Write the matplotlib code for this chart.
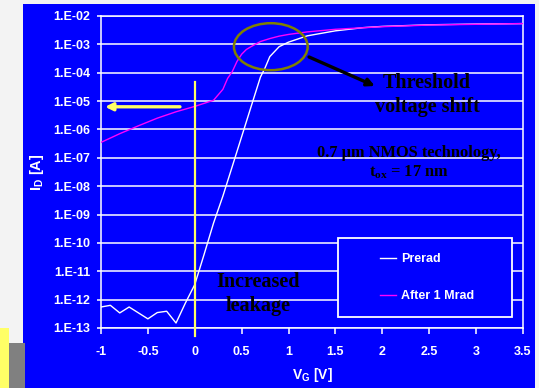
import numpy as np
import matplotlib
matplotlib.use("Agg")
import matplotlib.pyplot as plt
from matplotlib.patches import Rectangle, Ellipse
from matplotlib.ticker import NullLocator

plt.rcParams["mathtext.fontset"] = "custom"
plt.rcParams["mathtext.rm"] = "Liberation Serif:bold"
plt.rcParams["mathtext.it"] = "Liberation Serif:bold"
plt.rcParams["mathtext.bf"] = "Liberation Serif:bold"
plt.rcParams["mathtext.sf"] = "Liberation Sans:bold"

# Gate voltage sweep (V) and drain current (A), before irradiation
vg_prerad = [-1.0, -0.9, -0.8, -0.7, -0.5, -0.4, -0.3, -0.2, -0.1, 0.0,
             0.1, 0.2, 0.3, 0.4, 0.5, 0.6, 0.7, 0.75, 0.8, 0.9,
             1.0, 1.2, 1.5, 1.8, 2.0, 2.5, 3.0, 3.5]
id_prerad = [5.5e-13, 6.3e-13, 3.4e-13, 5.5e-13, 2.1e-13, 3.5e-13, 3.9e-13, 1.5e-13, 7.6e-13, 3.4e-12,
             4.0e-11, 5.0e-10, 4.5e-9, 5.0e-8, 5.6e-7, 6.3e-6, 7.0e-5, 1.5e-4, 3.7e-4, 8.3e-4,
             1.2e-3, 2.0e-3, 3.0e-3, 3.9e-3, 4.3e-3, 4.9e-3, 5.2e-3, 5.4e-3]

# Same device after a 1 Mrad dose
vg_mrad = [-1.0, -0.8, -0.6, -0.4, -0.2, 0.0, 0.2, 0.3, 0.35, 0.4,
           0.45, 0.5, 0.55, 0.6, 0.7, 0.8, 0.9, 1.0, 1.2, 1.5,
           2.0, 2.5, 3.0, 3.5]
id_mrad = [3.5e-7, 7.1e-7, 1.35e-6, 2.5e-6, 4.2e-6, 6.5e-6, 1.07e-5, 2.6e-5, 6.3e-5, 1.1e-4,
           2.5e-4, 4.5e-4, 6.6e-4, 8.3e-4, 1.26e-3, 1.6e-3, 1.95e-3, 2.24e-3, 2.75e-3, 3.4e-3,
           4.2e-3, 4.8e-3, 5.1e-3, 5.4e-3]

series_labels = ["Prerad", "After 1 Mrad"]
x_ticks = [-1, -0.5, 0, 0.5, 1, 1.5, 2, 2.5, 3, 3.5]
x_tick_labels = ["-1", "-0.5", "0", "0.5", "1", "1.5", "2", "2.5", "3", "3.5"]
y_ticks = [1e-13, 1e-12, 1e-11, 1e-10, 1e-9, 1e-8, 1e-7, 1e-6, 1e-5, 1e-4, 1e-3, 1e-2]
y_tick_labels = ["1.E-13", "1.E-12", "1.E-11", "1.E-10", "1.E-09", "1.E-08",
                 "1.E-07", "1.E-06", "1.E-05", "1.E-04", "1.E-03", "1.E-02"]

BLUE = "#0000ff"
W, H = 539, 388
fig = plt.figure(figsize=(W / 100, H / 100), dpi=100, facecolor="#f3f3f3")

# slide background panels, kept behind the axes
fig.patches.append(Rectangle((23 / W, 0), 512 / W, 384 / H, transform=fig.transFigure,
                             facecolor=BLUE, edgecolor="none", zorder=-3))
fig.patches.append(Rectangle((0, 0), 9 / W, 60 / H, transform=fig.transFigure,
                             facecolor="#ffff66", edgecolor="none", zorder=-2))
fig.patches.append(Rectangle((9 / W, 0), 16 / W, 45 / H, transform=fig.transFigure,
                             facecolor="#808080", edgecolor="none", zorder=-2))

ax = fig.add_axes([101 / W, 60 / H, 422 / W, 312 / H], facecolor=BLUE)
ax.set_axisbelow(True)

ax.plot(vg_prerad, id_prerad, color="white", lw=1.0, label=series_labels[0], zorder=3)
ax.plot(vg_mrad, id_mrad, color="#ff00ff", lw=1.0, label=series_labels[1], zorder=3)

ax.set_yscale("log")
ax.set_ylim(1e-13, 1e-2)
ax.set_xlim(-1, 3.5)
ax.set_yticks(y_ticks)
ax.set_yticklabels(y_tick_labels)
ax.yaxis.set_minor_locator(NullLocator())
ax.set_xticks(x_ticks)
ax.set_xticklabels(x_tick_labels)
ax.grid(axis="y", color="white", lw=1.1)

for s in ax.spines.values():
    s.set_color("white")
    s.set_linewidth(1.1)

tick_font = dict(family="Liberation Sans", weight="bold", size=9)
for lab in ax.get_xticklabels() + ax.get_yticklabels():
    lab.set_fontproperties(tick_font)
    lab.set_color("white")
ax.tick_params(axis="y", colors="white", length=3, width=1.1, pad=4.5)
ax.tick_params(axis="x", colors="white", length=4, width=1.1, pad=9)

ax.set_xlabel(r"$\mathsf{V_G}$ [V]", color="white", family="Liberation Sans",
              weight="bold", size=10)
ax.set_ylabel(r"$\mathsf{I_D}$ [A]", color="white", family="Liberation Sans",
              weight="bold", size=10.5)
ax.xaxis.set_label_coords(0.5, -0.122)
ax.yaxis.set_label_coords(-0.13, 0.5)

# vertical marker at VG = 0
ax.axvline(0, ymin=-0.026, ymax=0.789, color="#ffff66", lw=1.6, clip_on=False, zorder=4)

# leakage arrow
ax.annotate("", xy=(-0.957, 6.3e-6), xytext=(-0.158, 6.3e-6),
            arrowprops=dict(arrowstyle="-|>", color="#ffff66", lw=2.4,
                            mutation_scale=11, shrinkA=0, shrinkB=0), zorder=5)

# threshold region highlight
ax.add_patch(Ellipse((0.4024, 0.9016), 0.1747, 0.1506, transform=ax.transAxes,
                     facecolor="none", edgecolor="#808000", lw=1.8, zorder=5))
ax.annotate("", xy=(0.649, 0.7756), xytext=(0.493, 0.8686),
            xycoords="axes fraction", textcoords="axes fraction",
            arrowprops=dict(arrowstyle="-|>", color="black", lw=2.4,
                            mutation_scale=11, shrinkA=0, shrinkB=0), zorder=5)

serif = dict(family="Liberation Serif", weight="bold", color="black")
ax.text(0.7725, 0.747, "Threshold\nvoltage shift", transform=ax.transAxes,
        ha="center", va="center", size=14.5, linespacing=1.25, zorder=6, **serif)
ax.text(0.372, 0.109, "Increased\nleakage", transform=ax.transAxes,
        ha="center", va="center", size=14.5, linespacing=1.25, zorder=6, **serif)
ax.text(0.73, 0.529, "0.7 \u00b5m NMOS technology,\n" + r"$\mathrm{t_{ox}}$ = 17 nm",
        transform=ax.transAxes, ha="center", va="center", size=11.8,
        linespacing=1.2, zorder=6, **serif)

# legend box
ax.add_patch(Rectangle((338 / W, 1 - 317 / H), 174 / W, 79 / H, transform=fig.transFigure,
                       facecolor=BLUE, edgecolor="white", lw=1.3, zorder=7, clip_on=False))
leg = ax.legend(loc="center", bbox_to_anchor=(427 / W, 1 - 277.5 / H),
                bbox_transform=fig.transFigure, frameon=False,
                prop=dict(family="Liberation Sans", weight="bold", size=9),
                labelcolor="white", handlelength=1.3, handletextpad=0.35,
                labelspacing=2.0)
leg.set_zorder(8)

fig.savefig("out.png", dpi=100, facecolor=fig.get_facecolor())
